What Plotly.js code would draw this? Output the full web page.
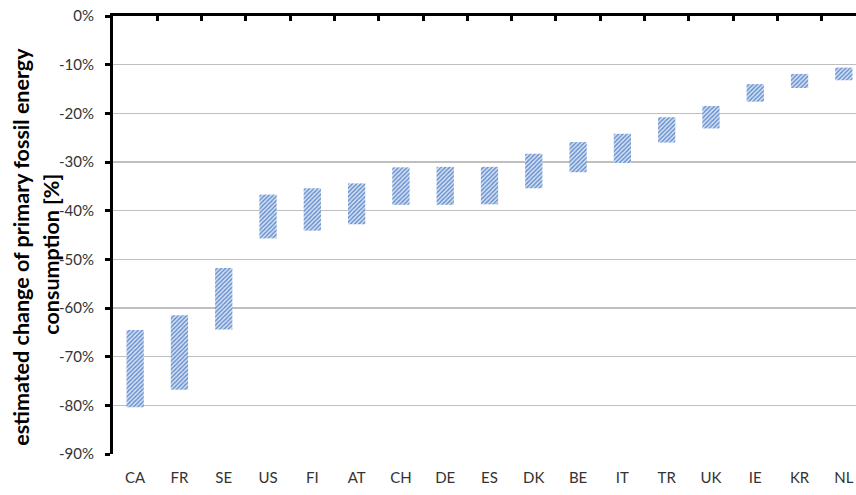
<!DOCTYPE html>
<html>
<head>
<meta charset="utf-8">
<script src="https://cdn.plot.ly/plotly-3.0.1.min.js"></script>
<style>
html, body { margin: 0; padding: 0; overflow: hidden; background: #fff; }
#chart { width: 870px; height: 495px; }
</style>
</head>
<body>
<div id="chart"></div>
<script>
// Countries
const categories = ['CA','FR','SE','US','FI','AT','CH','DE','ES','DK','BE','IT','TR','UK','IE','KR','NL'];
// Upper end of range (less negative), %
const upperValues = [-64.5, -61.5, -51.8, -36.7, -35.4, -34.4, -31.1, -31.0, -31.0, -28.3, -25.9, -24.2, -20.8, -18.5, -14.0, -11.9, -10.6];
// Lower end of range (more negative), %
const lowerValues = [-80.4, -76.8, -64.4, -45.7, -44.1, -42.8, -38.8, -38.8, -38.7, -35.4, -32.1, -30.2, -26.0, -23.1, -17.6, -14.8, -13.2];
const yTickValues = [0, -10, -20, -30, -40, -50, -60, -70, -80, -90];
const yTickLabels = ['0%','-10%','-20%','-30%','-40%','-50%','-60%','-70%','-80%','-90%'];
const titleLines = ['estimated change of primary fossil energy', 'consumption [%]'];

const spans = upperValues.map((u, i) => u - lowerValues[i]);

const bars = {
  type: 'bar',
  x: categories,
  y: spans,
  base: lowerValues,
  xaxis: 'x2',
  yaxis: 'y',
  width: 0.39,
  marker: {
    color: '#d9e4f4',
    line: { width: 0 },
    pattern: { shape: '/', fgcolor: '#6690cf', bgcolor: '#dbe5f4', size: 3, solidity: 0.5 }
  },
  hoverinfo: 'skip',
  showlegend: false
};

const topDummy = {
  type: 'bar',
  x: categories,
  y: spans,
  base: lowerValues,
  xaxis: 'x',
  yaxis: 'y',
  opacity: 0,
  hoverinfo: 'skip',
  showlegend: false
};

const font = 'Lato, "Open Sans", sans-serif';
const titleFont = { family: font, size: 21.5, color: '#000', weight: 'bold' };

const layout = {
  width: 870,
  height: 495,
  margin: { l: 113, r: 4, t: 16, b: 41 },
  paper_bgcolor: '#ffffff',
  plot_bgcolor: '#ffffff',
  font: { family: font, size: 15, color: '#333333' },
  xaxis: {
    side: 'top',
    type: 'category',
    range: [-0.5, categories.length - 0.5],
    showticklabels: false,
    ticks: 'inside',
    tickson: 'boundaries',
    ticklen: 5,
    tickwidth: 3,
    tickcolor: '#000',
    showline: true,
    linewidth: 3,
    linecolor: '#000',
    showgrid: false,
    zeroline: false,
    fixedrange: true
  },
  xaxis2: {
    overlaying: 'x',
    side: 'bottom',
    type: 'category',
    range: [-0.5, categories.length - 0.5],
    showticklabels: true,
    ticks: '',
    showline: false,
    showgrid: false,
    zeroline: false,
    tickfont: { family: font, size: 15, color: '#333333' },
    ticklabelstandoff: 13,
    fixedrange: true
  },
  yaxis: {
    range: [-90, 0],
    tickvals: yTickValues,
    ticktext: yTickLabels,
    ticks: 'outside',
    ticklen: 5,
    tickwidth: 3,
    tickcolor: '#000',
    showline: true,
    linewidth: 3,
    linecolor: '#000',
    showgrid: true,
    gridcolor: '#bfbfbf',
    gridwidth: 1.5,
    zeroline: false,
    tickfont: { family: font, size: 15, color: '#333333' },
    ticklabelstandoff: 8,
    fixedrange: true
  },
  annotations: [
    {
      text: titleLines[0], textangle: -90, showarrow: false,
      xref: 'paper', yref: 'paper', x: 0, y: 0.473,
      xanchor: 'center', yanchor: 'middle', xshift: -92,
      font: titleFont
    },
    {
      text: titleLines[1], textangle: -90, showarrow: false,
      xref: 'paper', yref: 'paper', x: 0, y: 0.455,
      xanchor: 'center', yanchor: 'middle', xshift: -62,
      font: titleFont
    }
  ]
};

Plotly.newPlot('chart', [topDummy, bars], layout, { staticPlot: true, displayModeBar: false });
</script>
</body>
</html>
